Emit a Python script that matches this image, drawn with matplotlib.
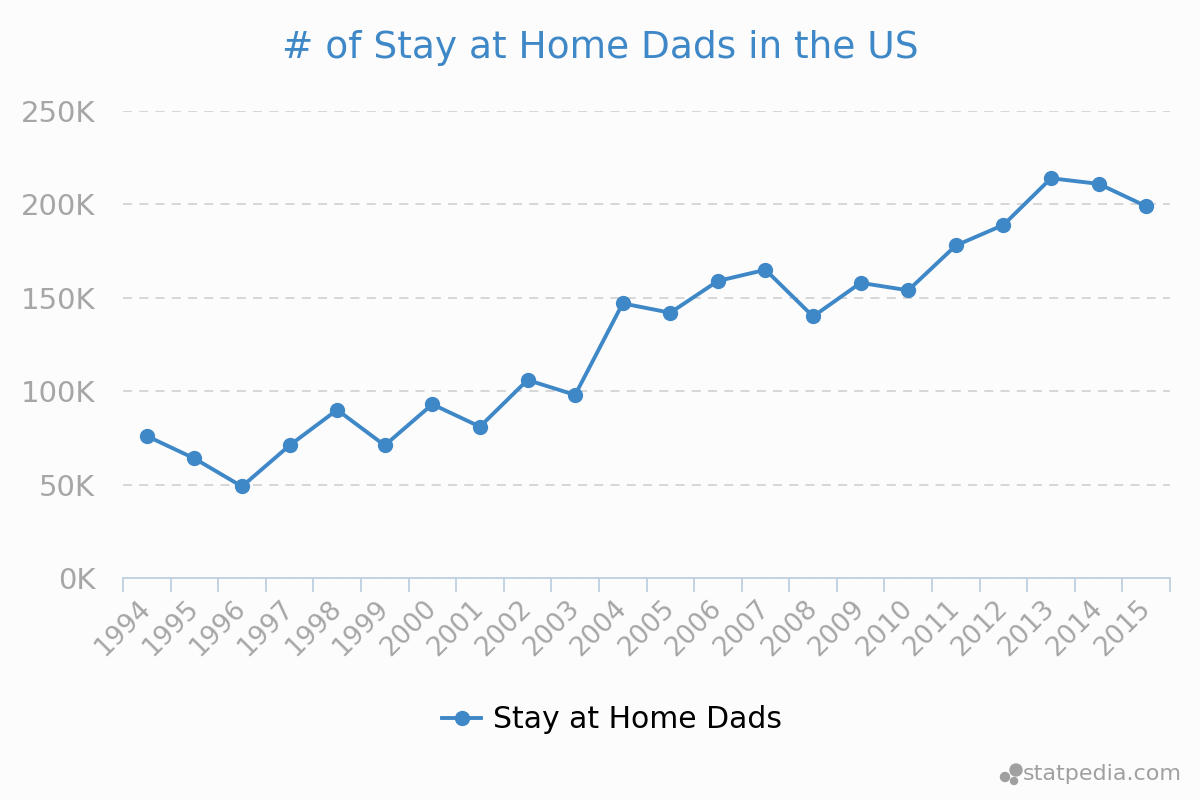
import matplotlib
matplotlib.use('Agg')
import matplotlib.pyplot as plt
from matplotlib.patches import Circle
import numpy as np

# data
years = [str(y) for y in range(1994, 2016)]
dads = [76000, 64000, 49000, 71000, 90000, 71000, 93000, 81000, 106000, 98000,
        147000, 142000, 159000, 165000, 140000, 158000, 154000, 178000, 189000,
        214000, 211000, 199000]
y_ticks = [0, 50000, 100000, 150000, 200000, 250000]
y_labels = ['0K', '50K', '100K', '150K', '200K', '250K']

BLUE = '#3f88c8'
GREY = '#a6a6a6'
BG = '#fcfcfc'

fig = plt.figure(figsize=(12, 8), dpi=100, facecolor=BG)
ax = fig.add_axes([0.1025, 0.2775, 0.8725, 0.58375], facecolor=BG)

x = np.arange(len(years))
line, = ax.plot(x, dads, '-o', color=BLUE, lw=2.8, markersize=10,
                label='Stay at Home Dads', zorder=3)

ax.set_xlim(-0.5, len(years) - 0.5)
ax.set_ylim(0, 250000)

ax.set_yticks(y_ticks)
ax.set_yticklabels(y_labels, fontsize=21, color=GREY)
ax.tick_params(axis='y', length=0, pad=20)
ax.yaxis.grid(True, linestyle=(0, (5, 4)), color='#d4d4d4', lw=1.3)
ax.set_axisbelow(True)

# tick marks on band edges, labels at band centres
ax.set_xticks(np.arange(len(years) + 1) - 0.5)
ax.set_xticklabels([])
ax.tick_params(axis='x', which='major', length=10, width=1.3, color='#c0d0e0')
ax.set_xticks(x, minor=True)
ax.set_xticklabels(years, minor=True, rotation=45, ha='right', va='center',
                   rotation_mode='anchor', fontsize=19, color=GREY)
ax.tick_params(axis='x', which='minor', length=0, pad=19)

for s in ['top', 'right', 'left']:
    ax.spines[s].set_visible(False)
ax.spines['bottom'].set_color('#c0d0e0')
ax.spines['bottom'].set_linewidth(1.3)

fig.text(0.5, 0.94, '# of Stay at Home Dads in the US', ha='center', va='center',
         fontsize=27, color=BLUE)

fig.legend(handles=[line], loc='center', bbox_to_anchor=(0.51, 0.1), frameon=False,
           fontsize=21.5, handlelength=1.3, handletextpad=0.4, markerscale=1.0)

# watermark
fig.text(0.985, 0.032, 'statpedia.com', ha='right', va='center', fontsize=16,
         color='#a0a0a0')
tr = fig.dpi_scale_trans
for cx, cy, r in [(10.05, 0.23, 0.045), (10.16, 0.30, 0.06), (10.14, 0.19, 0.035)]:
    fig.add_artist(Circle((cx, cy), r, transform=tr, color='#a0a0a0'))

fig.savefig('out.png', dpi=100, facecolor=BG)
